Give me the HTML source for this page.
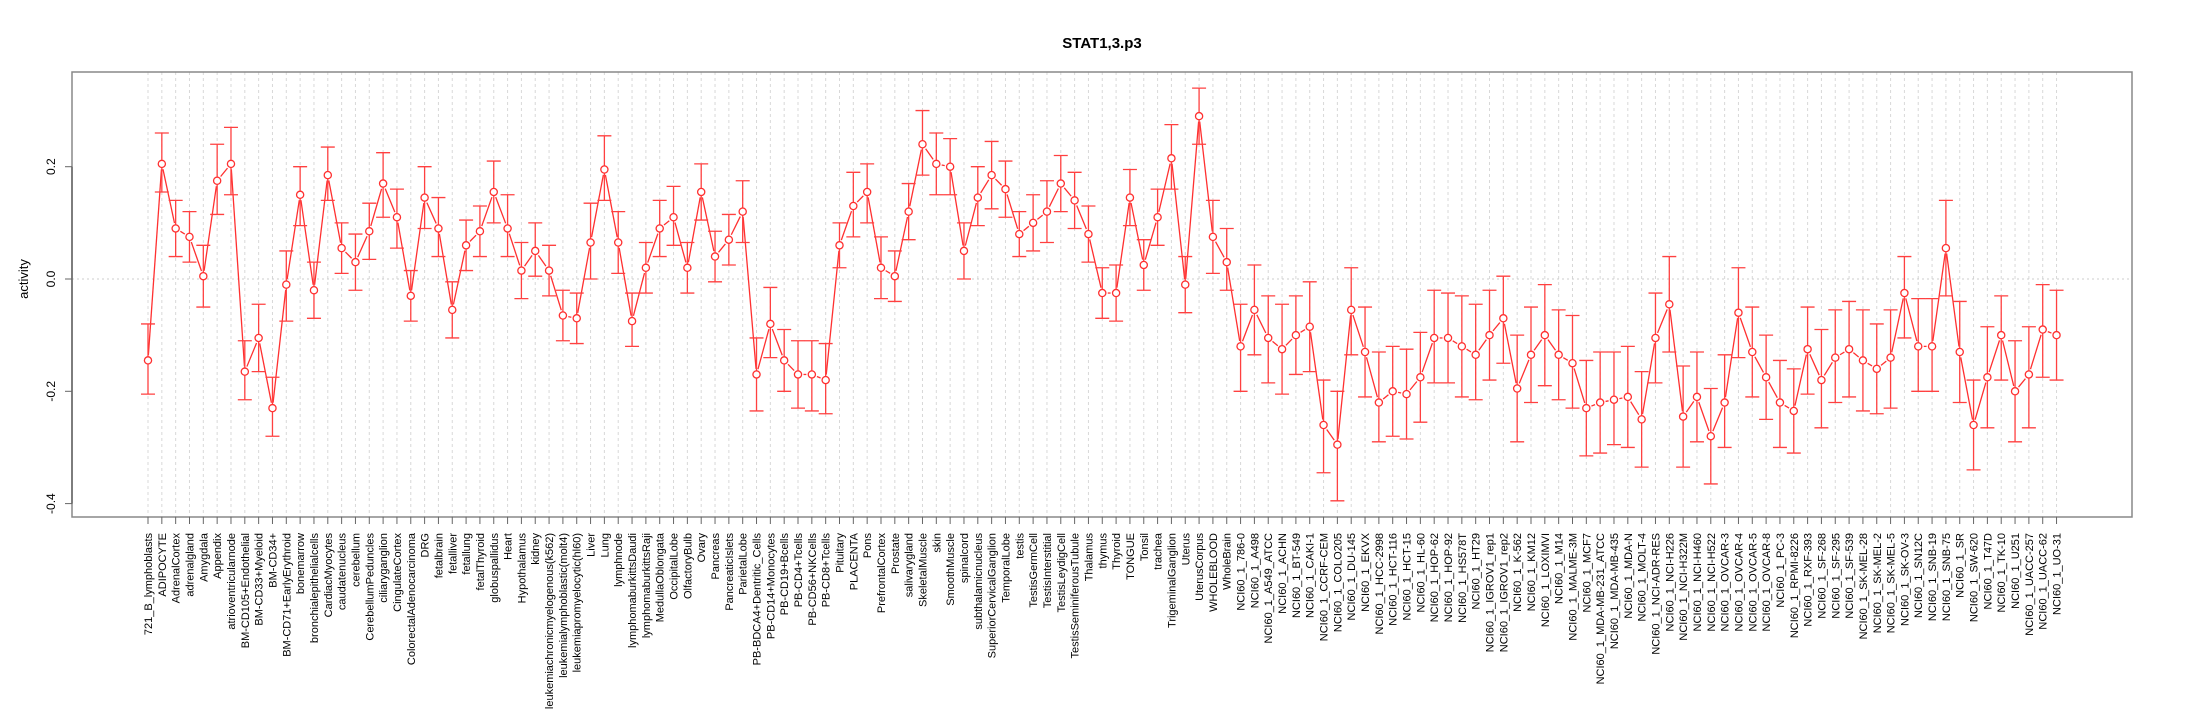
<!DOCTYPE html>
<html><head><meta charset="utf-8"><style>
body{margin:0;background:#fff}
svg{display:block;font-family:"Liberation Sans",sans-serif}
</style></head><body>
<svg id="c" width="2205" height="720" viewBox="0 0 2205 720">
<rect x="0" y="0" width="2205" height="720" fill="#fff"/>
<text x="1102" y="48" text-anchor="middle" font-size="15" font-weight="bold">STAT1,3.p3</text>
<text transform="translate(28,279) rotate(-90)" text-anchor="middle" font-size="13">activity</text>
<g id="grid"></g><g id="marks"></g><g id="axes"></g>
</svg>
<script>
const categories=["721_B_lymphoblasts","ADIPOCYTE","AdrenalCortex","adrenalgland","Amygdala","Appendix","atrioventricularnode","BM-CD105+Endothelial","BM-CD33+Myeloid","BM-CD34+","BM-CD71+EarlyErythroid","bonemarrow","bronchialepithelialcells","CardiacMyocytes","caudatenucleus","cerebellum","CerebellumPeduncles","ciliaryganglion","CingulateCortex","ColorectalAdenocarcinoma","DRG","fetalbrain","fetalliver","fetallung","fetalThyroid","globuspallidus","Heart","Hypothalamus","kidney","leukemiachronicmyelogenous(k562)","leukemialymphoblastic(molt4)","leukemiapromyelocytic(hl60)","Liver","Lung","lymphnode","lymphomaburkittsDaudi","lymphomaburkittsRaji","MedullaOblongata","OccipitalLobe","OlfactoryBulb","Ovary","Pancreas","PancreaticIslets","ParietalLobe","PB-BDCA4+Dentritic_Cells","PB-CD14+Monocytes","PB-CD19+Bcells","PB-CD4+Tcells","PB-CD56+NKCells","PB-CD8+Tcells","Pituitary","PLACENTA","Pons","PrefrontalCortex","Prostate","salivarygland","SkeletalMuscle","skin","SmoothMuscle","spinalcord","subthalamicnucleus","SuperiorCervicalGanglion","TemporalLobe","testis","TestisGermCell","TestisInterstitial","TestisLeydigCell","TestisSeminiferousTubule","Thalamus","thymus","Thyroid","TONGUE","Tonsil","trachea","TrigeminalGanglion","Uterus","UterusCorpus","WHOLEBLOOD","WholeBrain","NCI60_1_786-0","NCI60_1_A498","NCI60_1_A549_ATCC","NCI60_1_ACHN","NCI60_1_BT-549","NCI60_1_CAKI-1","NCI60_1_CCRF-CEM","NCI60_1_COLO205","NCI60_1_DU-145","NCI60_1_EKVX","NCI60_1_HCC-2998","NCI60_1_HCT-116","NCI60_1_HCT-15","NCI60_1_HL-60","NCI60_1_HOP-62","NCI60_1_HOP-92","NCI60_1_HS578T","NCI60_1_HT29","NCI60_1_IGROV1_rep1","NCI60_1_IGROV1_rep2","NCI60_1_K-562","NCI60_1_KM12","NCI60_1_LOXIMVI","NCI60_1_M14","NCI60_1_MALME-3M","NCI60_1_MCF7","NCI60_1_MDA-MB-231_ATCC","NCI60_1_MDA-MB-435","NCI60_1_MDA-N","NCI60_1_MOLT-4","NCI60_1_NCI-ADR-RES","NCI60_1_NCI-H226","NCI60_1_NCI-H322M","NCI60_1_NCI-H460","NCI60_1_NCI-H522","NCI60_1_OVCAR-3","NCI60_1_OVCAR-4","NCI60_1_OVCAR-5","NCI60_1_OVCAR-8","NCI60_1_PC-3","NCI60_1_RPMI-8226","NCI60_1_RXF-393","NCI60_1_SF-268","NCI60_1_SF-295","NCI60_1_SF-539","NCI60_1_SK-MEL-28","NCI60_1_SK-MEL-2","NCI60_1_SK-MEL-5","NCI60_1_SK-OV-3","NCI60_1_SN12C","NCI60_1_SNB-19","NCI60_1_SNB-75","NCI60_1_SR","NCI60_1_SW-620","NCI60_1_T47D","NCI60_1_TK-10","NCI60_1_U251","NCI60_1_UACC-257","NCI60_1_UACC-62","NCI60_1_UO-31"];
const means=[-0.145,0.205,0.09,0.075,0.005,0.175,0.205,-0.165,-0.105,-0.23,-0.01,0.15,-0.02,0.185,0.055,0.03,0.085,0.17,0.11,-0.03,0.145,0.09,-0.055,0.06,0.085,0.155,0.09,0.015,0.05,0.015,-0.065,-0.07,0.065,0.195,0.065,-0.075,0.02,0.09,0.11,0.02,0.155,0.04,0.07,0.12,-0.17,-0.08,-0.145,-0.17,-0.17,-0.18,0.06,0.13,0.155,0.02,0.005,0.12,0.24,0.205,0.2,0.05,0.145,0.185,0.16,0.08,0.1,0.12,0.17,0.14,0.08,-0.025,-0.025,0.145,0.025,0.11,0.215,-0.01,0.29,0.075,0.03,-0.12,-0.055,-0.105,-0.125,-0.1,-0.085,-0.26,-0.295,-0.055,-0.13,-0.22,-0.2,-0.205,-0.175,-0.105,-0.105,-0.12,-0.135,-0.1,-0.07,-0.195,-0.135,-0.1,-0.135,-0.15,-0.23,-0.22,-0.215,-0.21,-0.25,-0.105,-0.045,-0.245,-0.21,-0.28,-0.22,-0.06,-0.13,-0.175,-0.22,-0.235,-0.125,-0.18,-0.14,-0.125,-0.145,-0.16,-0.14,-0.025,-0.12,-0.12,0.055,-0.13,-0.26,-0.175,-0.1,-0.2,-0.17,-0.09,-0.1];
const lowers=[-0.205,0.155,0.04,0.03,-0.05,0.115,0.15,-0.215,-0.165,-0.28,-0.075,0.095,-0.07,0.14,0.01,-0.02,0.035,0.11,0.055,-0.075,0.09,0.04,-0.105,0.015,0.04,0.1,0.04,-0.035,0.005,-0.03,-0.11,-0.115,0.0,0.14,0.01,-0.12,-0.025,0.04,0.06,-0.025,0.105,-0.005,0.025,0.065,-0.235,-0.14,-0.2,-0.23,-0.235,-0.24,0.02,0.075,0.1,-0.035,-0.04,0.07,0.185,0.15,0.15,0.0,0.095,0.125,0.11,0.04,0.05,0.065,0.12,0.09,0.03,-0.07,-0.075,0.095,-0.02,0.06,0.16,-0.06,0.24,0.01,-0.02,-0.2,-0.135,-0.185,-0.205,-0.17,-0.165,-0.345,-0.395,-0.135,-0.21,-0.29,-0.28,-0.285,-0.255,-0.185,-0.185,-0.21,-0.215,-0.18,-0.15,-0.29,-0.22,-0.19,-0.215,-0.23,-0.315,-0.31,-0.295,-0.3,-0.335,-0.185,-0.13,-0.335,-0.29,-0.365,-0.3,-0.14,-0.21,-0.25,-0.3,-0.31,-0.205,-0.265,-0.22,-0.21,-0.235,-0.24,-0.23,-0.105,-0.2,-0.2,-0.03,-0.22,-0.34,-0.265,-0.18,-0.29,-0.265,-0.175,-0.18];
const uppers=[-0.08,0.26,0.14,0.12,0.06,0.24,0.27,-0.11,-0.045,-0.175,0.05,0.2,0.03,0.235,0.1,0.08,0.135,0.225,0.16,0.015,0.2,0.145,-0.005,0.105,0.13,0.21,0.15,0.065,0.1,0.06,-0.02,-0.025,0.135,0.255,0.12,-0.025,0.065,0.14,0.165,0.065,0.205,0.085,0.115,0.175,-0.105,-0.015,-0.09,-0.11,-0.11,-0.115,0.1,0.19,0.205,0.075,0.05,0.17,0.3,0.26,0.25,0.1,0.2,0.245,0.21,0.12,0.15,0.175,0.22,0.19,0.13,0.02,0.025,0.195,0.07,0.16,0.275,0.04,0.34,0.14,0.09,-0.045,0.025,-0.03,-0.045,-0.03,-0.005,-0.18,-0.2,0.02,-0.05,-0.13,-0.12,-0.125,-0.095,-0.02,-0.025,-0.03,-0.045,-0.02,0.005,-0.1,-0.05,-0.01,-0.055,-0.065,-0.145,-0.13,-0.13,-0.12,-0.165,-0.025,0.04,-0.155,-0.13,-0.195,-0.135,0.02,-0.05,-0.1,-0.145,-0.16,-0.05,-0.09,-0.055,-0.04,-0.055,-0.08,-0.055,0.04,-0.035,-0.035,0.14,-0.04,-0.18,-0.085,-0.03,-0.11,-0.085,-0.01,-0.02];
const yTicks=[-0.4,-0.2,0.0,0.2];

const NS="http://www.w3.org/2000/svg";
const L=72,R=2132,T=72,B=517,X0=148,DX=13.83;
const xs=i=>X0+i*DX;
const ys=v=>279-v*561.5;
function mk(tag,attrs,parent){const e=document.createElementNS(NS,tag);for(const k in attrs)e.setAttribute(k,attrs[k]);parent.appendChild(e);return e;}
const grid=document.getElementById('grid'),marks=document.getElementById('marks'),axes=document.getElementById('axes');
categories.forEach((c,i)=>{
  const g=mk('line',{x1:xs(i),x2:xs(i),y1:T,y2:B,stroke:'#d8d8d8','stroke-width':1,'stroke-dasharray':'3,3'},grid);
  
  
});
const z=mk('line',{x1:L,x2:R,y1:ys(0),y2:ys(0),stroke:'#cccccc','stroke-width':1,'stroke-dasharray':'2,3'},grid);


for(let i=0;i<means.length-1;i++){
  const x1=xs(i),y1=ys(means[i]),x2=xs(i+1),y2=ys(means[i+1]);
  const dx=x2-x1,dy=y2-y1,d=Math.hypot(dx,dy),g=5.5;
  if(d>2*g){
    const s=mk('line',{x1:x1+dx*g/d,y1:y1+dy*g/d,x2:x2-dx*g/d,y2:y2-dy*g/d,stroke:'#ff3030','stroke-width':1.3},marks);
    
    
  }
}
means.forEach((m,i)=>{
  const x=xs(i),lo=ys(lowers[i]),hi=ys(uppers[i]);
  const e=mk('path',{d:`M${x},${lo}V${hi}M${x-7},${lo}H${x+7}M${x-7},${hi}H${x+7}`,stroke:'#ff4040','stroke-width':1.3,fill:'none'},marks);
  
  
  const p=mk('circle',{cx:x,cy:ys(m),r:3.6,fill:'#fff',stroke:'#ff3030','stroke-width':1.3},marks);
  
  
});
const f=mk('rect',{x:L,y:T,width:R-L,height:B-T,fill:'none',stroke:'#888','stroke-width':1.5},axes);


const ya=mk('line',{x1:L,x2:L,y1:ys(yTicks[0]),y2:ys(yTicks[yTicks.length-1]),stroke:'#666','stroke-width':1.5},axes);


yTicks.forEach(v=>{
  const t=mk('line',{x1:L-7,x2:L,y1:ys(v),y2:ys(v),stroke:'#666','stroke-width':1},axes);
  
  
  const lb=mk('text',{transform:`translate(${L-17},${ys(v)}) rotate(-90)`,'text-anchor':'middle','font-size':12},axes);
  lb.textContent=v.toFixed(1);
  
  
});
categories.forEach((c,i)=>{
  const t=mk('line',{x1:xs(i),x2:xs(i),y1:B,y2:B+7,stroke:'#666','stroke-width':1},axes);
  
  
  const lb=mk('text',{transform:`translate(${xs(i)+4},533) rotate(-90)`,'text-anchor':'end','font-size':11},axes);
  lb.textContent=c;
  
  
});
</script>
</body></html>
